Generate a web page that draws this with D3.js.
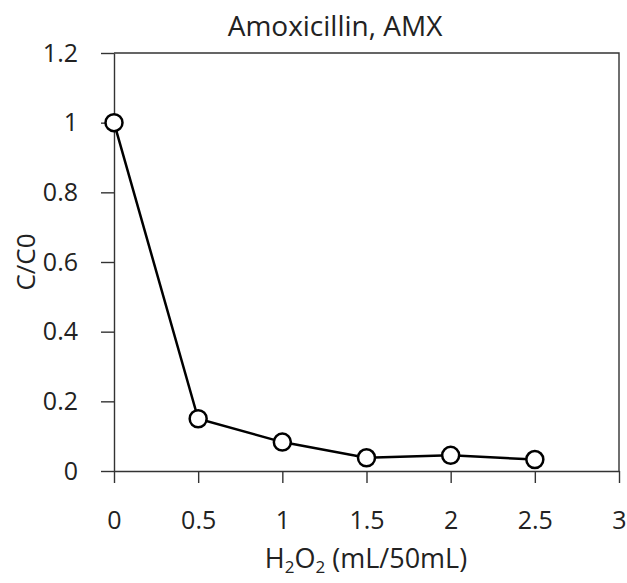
<!DOCTYPE html>
<html>
<head>
<meta charset="utf-8">
<script src="https://cdn.jsdelivr.net/npm/d3@7"></script>
<style>
  body { margin: 0; background: #fff; }
  text { font-family: "Open Sans", "Noto Sans", sans-serif; fill: #222; }
</style>
</head>
<body>
<div id="chart"></div>
<script>
// Data
const doseValues = [0, 0.5, 1, 1.5, 2, 2.5];
const ratioValues = [1, 0.15, 0.083, 0.038, 0.045, 0.033];
const xTicks = [0, 0.5, 1, 1.5, 2, 2.5, 3];
const yTicks = [0, 0.2, 0.4, 0.6, 0.8, 1, 1.2];

const W = 627, H = 583;
const plotL = 114, plotR = 619, plotT = 53, plotB = 471;

const svg = d3.select("#chart").append("svg")
    .attr("width", W)
    .attr("height", H);

const x = d3.scaleLinear().domain([0, 3]).range([plotL, plotR]);
const y = d3.scaleLinear().domain([0, 1.2]).range([plotB, plotT]);

// frame (top + right)
svg.append("path")
    .attr("d", `M${plotL},${plotT}H${plotR}V${plotB}`)
    .attr("fill", "none")
    .attr("stroke", "#333")
    .attr("stroke-width", 1.4);

// x axis
const xAxis = svg.append("g")
    .attr("transform", `translate(0,${plotB})`)
    .call(d3.axisBottom(x).tickValues(xTicks).tickSize(12).tickSizeOuter(0)
        .tickPadding(28).tickFormat(d3.format("")));
xAxis.select(".domain").attr("stroke", "#333").attr("stroke-width", 1.4);
xAxis.selectAll(".tick line").attr("stroke", "#333").attr("stroke-width", 1.4);
xAxis.selectAll("text").attr("font-size", 25).attr("fill", "#222")
    .style("font-family", "'Open Sans', sans-serif");

// y axis
const yAxis = svg.append("g")
    .attr("transform", `translate(${plotL},0)`)
    .call(d3.axisLeft(y).tickValues(yTicks).tickSize(13).tickSizeOuter(0)
        .tickPadding(23).tickFormat(d3.format("")));
yAxis.select(".domain").attr("stroke", "#333").attr("stroke-width", 1.4);
yAxis.selectAll(".tick line").attr("stroke", "#333").attr("stroke-width", 1.4);
yAxis.selectAll("text").attr("font-size", 25).attr("fill", "#222")
    .style("font-family", "'Open Sans', sans-serif");

// line
const points = doseValues.map((d, i) => ({ dose: d, ratio: ratioValues[i] }));
svg.append("path")
    .datum(points)
    .attr("fill", "none")
    .attr("stroke", "#000")
    .attr("stroke-width", 2.5)
    .attr("d", d3.line().x(d => x(d.dose)).y(d => y(d.ratio)));

// markers
svg.selectAll("circle.pt")
    .data(points)
    .enter()
    .append("circle")
    .attr("class", "pt")
    .attr("cx", d => x(d.dose))
    .attr("cy", d => y(d.ratio))
    .attr("r", 8.5)
    .attr("fill", "#fff")
    .attr("stroke", "#000")
    .attr("stroke-width", 2.5);

// title
svg.append("text")
    .attr("x", 335)
    .attr("y", 36)
    .attr("text-anchor", "middle")
    .attr("font-size", 28)
    .text("Amoxicillin, AMX");

// x title with subscripts
const xt = svg.append("text")
    .attr("x", 366)
    .attr("y", 568)
    .attr("text-anchor", "middle")
    .attr("font-size", 27);
xt.append("tspan").text("H");
xt.append("tspan").attr("font-size", 17).attr("dy", 5).text("2");
xt.append("tspan").attr("dy", -5).text("O");
xt.append("tspan").attr("font-size", 17).attr("dy", 5).text("2");
xt.append("tspan").attr("dy", -5).text(" (mL/50mL)");

// y title
svg.append("text")
    .attr("transform", `translate(35,262) rotate(-90)`)
    .attr("text-anchor", "middle")
    .attr("font-size", 26)
    .text("C/C0");
</script>
</body>
</html>
